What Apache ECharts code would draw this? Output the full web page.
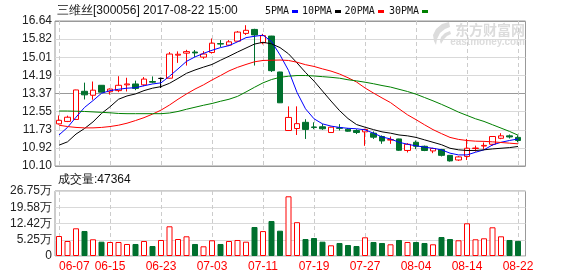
<!DOCTYPE html>
<html><head><meta charset="utf-8">
<script src="https://cdn.jsdelivr.net/npm/echarts@6/dist/echarts.min.js"></script>
<style>html,body{margin:0;padding:0;background:#fff}#c{width:578px;height:276px}</style>
</head><body><div id="c"></div>
<script>
const dates = ['06-07','06-08','06-09','06-12','06-13','06-14','06-15','06-16','06-19','06-20','06-21','06-22','06-23','06-26','06-27','06-28','06-29','06-30','07-03','07-04','07-05','07-06','07-07','07-10','07-11','07-12','07-13','07-14','07-17','07-18','07-19','07-20','07-21','07-24','07-25','07-26','07-27','07-28','07-31','08-01','08-02','08-03','08-04','08-07','08-08','08-09','08-10','08-11','08-14','08-15','08-16','08-17','08-18','08-21','08-22'];
const opens = [12.00,12.11,12.20,13.47,13.29,13.74,13.45,13.50,13.76,13.80, 13.76,13.91,14.05,14.06,15.10,15.19,15.24,15.01,15.22,15.62, 15.55,15.73,16.08,16.26,15.66,15.96,14.34,11.70,11.79,12.07, 11.86,11.87,11.61,11.82,11.76,11.70,11.64,11.58,11.43,11.27, 11.32,10.80,11.17,10.99,10.78,10.84,10.58,10.37,10.53,10.89, 11.00,11.08,11.35,11.46,11.39];
const closes = [12.16,12.30,13.53,13.31,13.52,13.43,13.57,13.74,13.80,13.60, 14.02,13.88,14.05,15.15,15.14,15.26,15.20,15.15,15.64,15.60, 15.70,16.14,16.22,16.01,15.98,14.40,12.95,12.29,12.01,11.75, 11.84,11.78,11.85,11.80,11.67,11.61,11.75,11.40,11.23,11.29, 10.81,11.08,10.99,10.80,10.89,10.58,10.33,10.51,10.90,10.91, 11.03,11.43,11.46,11.41,11.25];
const lows = [11.97,12.08,12.18,13.10,13.09,13.42,13.32,13.43,13.46,13.52, 13.70,13.83,13.62,14.05,14.75,14.63,15.02,14.93,15.17,15.46, 15.51,15.70,16.01,14.63,15.59,14.34,12.94,11.70,11.50,11.32, 11.76,11.73,11.60,11.70,11.65,11.54,11.01,11.32,11.10,11.10, 10.78,10.71,10.86,10.77,10.68,10.53,10.30,10.33,10.37,10.75, 10.87,11.02,11.31,11.34,11.17];
const highs = [12.38,12.37,13.54,13.86,13.91,13.75,13.60,14.15,14.08,13.95, 14.11,14.14,14.09,15.24,15.27,15.34,15.33,15.28,15.85,15.78, 15.78,16.19,16.45,16.29,16.06,15.97,14.35,12.79,12.79,12.21, 12.07,12.00,11.87,11.99,11.81,11.76,11.78,11.66,11.48,11.43, 11.33,11.13,11.25,11.02,10.92,10.87,10.59,10.55,11.32,11.02, 11.16,11.44,11.58,11.52,11.48];
const ma5 = [11.50,11.84,12.30,12.74,13.05,13.38,13.50,13.56,13.61,13.63, 13.72,13.80,13.85,14.15,14.48,14.82,15.02,15.18,15.32,15.44, 15.53,15.70,15.89,15.95,16.00,15.72,15.11,14.41,13.42,12.68, 12.23,12.00,11.90,11.84,11.80,11.78,11.73,11.58,11.41,11.32, 11.17,11.08,11.01,10.95,10.90,10.83,10.68,10.60,10.60,10.72, 10.83,11.05,11.17,11.25,11.32];
const ma10 = [11.04,11.19,11.54,11.79,12.09,12.47,12.77,13.11,13.26,13.35, 13.50,13.61,13.68,13.83,14.05,14.28,14.43,14.56,14.68,14.87, 15.05,15.24,15.42,15.60,15.68,15.61,15.44,15.16,14.75,14.32, 13.93,13.48,13.03,12.60,12.24,11.97,11.85,11.74,11.64,11.58, 11.50,11.46,11.39,11.28,11.17,11.06,10.90,10.83,10.80,10.80, 10.83,10.87,10.90,10.93,10.98];
const ma20 = [11.94,11.88,11.84,11.82,11.82,11.84,11.88,11.94,12.03,12.15, 12.28,12.44,12.62,12.85,13.11,13.35,13.57,13.76,13.98,14.18, 14.39,14.55,14.68,14.80,14.86,14.87,14.88,14.86,14.78,14.67, 14.59,14.48,14.38,14.25,14.08,13.89,13.62,13.39,13.17,12.96, 12.68,12.41,12.19,11.96,11.74,11.56,11.39,11.30,11.25,11.22, 11.21,11.19,11.16,11.13,11.10];
const ma30 = [12.58,12.58,12.57,12.56,12.54,12.52,12.50,12.47,12.46,12.46, 12.46,12.46,12.46,12.49,12.56,12.66,12.75,12.84,12.92,13.02, 13.11,13.24,13.44,13.65,13.85,14.00,14.10,14.15,14.18,14.18, 14.16,14.13,14.10,14.06,13.99,13.94,13.88,13.81,13.73,13.66, 13.56,13.46,13.34,13.19,13.04,12.88,12.71,12.53,12.38,12.23, 12.11,11.96,11.81,11.66,11.49];
const volumes = [6.90,4.70,10.30,9.11,5.45,4.39,4.26,4.26,3.38,3.38, 4.70,2.49,5.14,11.18,5.58,6.77,3.38,2.36,5.01,3.38, 4.70,5.14,4.39,10.87,9.08,13.52,9.24,24.41,12.99,5.58, 6.02,4.39,2.80,3.82,2.93,2.49,6.33,4.26,3.82,3.24, 5.14,4.26,4.26,3.82,3.24,6.46,5.58,5.01,12.50,5.45, 5.89,10.74,6.77,5.14,4.74];
const priceTicks = ['10.10','10.92','11.73','12.55','13.37','14.19','15.01','15.82','16.64'];
const volTicks = ['0','5.25万','12.42万','19.58万','26.75万'];
const priceRange = [10.10, 16.64];
const volRange = [-1.9167, 26.75];
const titleText = '三维丝[300056] 2017-08-22 15:00';
const volText = '成交量:47364';
const maNames = ['5PMA','10PMA','20PMA','30PMA'];

const UP = '#ff0000', DOWN = '#00702e';
const maColors = ['#0000ff','#000000','#ff0000','#008000'];
const FONT = '"Liberation Sans", Arial, sans-serif';

const chart = echarts.init(document.getElementById('c'));
const candleData = dates.map((d, i) => {
  const item = { value: [opens[i], closes[i], lows[i], highs[i]] };
  if (opens[i] === closes[i]) item.itemStyle = { color: '#000', color0: '#000', borderColor: '#000', borderColor0: '#000', borderColorDoji: '#000' };
  return item;
});
const volData = volumes.map((v, i) => {
  const up = closes[i] >= opens[i];
  return { value: v, itemStyle: up ? { color: '#fff', borderColor: UP, borderWidth: 1 } : { color: DOWN, borderColor: DOWN, borderWidth: 1 } };
});
const vSplit = { show: true, interval: 5, alignWithLabel: true, lineStyle: { color: '#cccccc', type: [4, 3], width: 1 } };
const graphics = [
  { type: 'text', x: 57, y: 11, style: { text: titleText, font: '12px ' + FONT, fill: '#111', verticalAlign: 'middle' } },
  { type: 'text', x: 58, y: 180, style: { text: volText, font: '12px ' + FONT, fill: '#111', verticalAlign: 'middle' } },
  { type: 'polygon', z: -1, shape: { points: [[449,22],[442,24],[436,29],[433,35],[434,41],[436,45],[437,39],[440,33],[445,29],[450,27]] }, style: { fill: '#dcdcdc' } },
  { type: 'polygon', z: -1, shape: { points: [[450,31],[445,33],[441,37],[440,41],[441,44],[444,39],[447,36],[451,34]] }, style: { fill: '#dcdcdc' } },
  { type: 'text', x: 525, y: 30, z: -1, style: { text: '东方财富网', font: 'bold 14px "Noto Sans CJK SC"', fill: '#dcdcdc', align: 'right', verticalAlign: 'middle' } },
  { type: 'text', x: 525, y: 42, z: -1, style: { text: 'eastmoney.com', font: 'bold 10px ' + FONT, fill: '#dcdcdc', align: 'right', verticalAlign: 'middle' } }
];
const legX = [265, 302, 344.6, 389];
const swX = [292, 335, 378, 422];
maNames.forEach((n, k) => {
  graphics.push({ type: 'text', x: legX[k], y: 11, style: { text: n, font: '10px "DejaVu Sans Mono"', fill: '#111', verticalAlign: 'middle' } });
  graphics.push({ type: 'rect', shape: { x: swX[k], y: 10, width: 6, height: 3 }, style: { fill: maColors[k] } });
});

const option = {
  animation: false,
  backgroundColor: '#fff',
  graphic: graphics,
  grid: [
    { left: 55, top: 21, width: 470.5, height: 145, show: true, borderColor: '#999', borderWidth: 1 },
    { left: 54.75, top: 21, width: 467.5, height: 145 },
    { left: 55, top: 191, width: 470.5, height: 65, show: true, borderColor: '#999', borderWidth: 1 },
    { left: 54.75, top: 191, width: 467.5, height: 65 }
  ],
  xAxis: [
    { gridIndex: 0, type: 'value', min: 0, max: 1, show: false },
    { gridIndex: 1, type: 'category', data: dates, axisLine: { show: false }, axisTick: { show: false }, axisLabel: { show: false }, splitLine: vSplit },
    { gridIndex: 2, type: 'value', min: 0, max: 1, show: false },
    { gridIndex: 3, type: 'category', data: dates, axisLine: { show: false }, axisTick: { show: false },
      axisLabel: { show: true, interval: 5, color: '#ff0000', fontSize: 12, fontFamily: FONT, margin: 5, alignMinLabel: 'left' },
      splitLine: vSplit }
  ],
  yAxis: [
    { gridIndex: 0, type: 'value', min: 0, max: 8, interval: 1, axisLine: { show: false }, axisTick: { show: false },
      axisLabel: { formatter: v => priceTicks[Math.round(v)], color: '#222', fontSize: 12, fontFamily: FONT, margin: 3 },
      splitLine: { lineStyle: { color: '#d9d9d9', width: 1 } } },
    { gridIndex: 0, type: 'value', min: 0, max: 2, interval: 1, axisLine: { show: false }, axisTick: { show: false }, axisLabel: { show: false },
      splitLine: { lineStyle: { color: '#999', width: 1 } } },
    { gridIndex: 1, type: 'value', min: priceRange[0], max: priceRange[1], show: false },
    { gridIndex: 2, type: 'value', min: 0, max: 4, interval: 1, axisLine: { show: false }, axisTick: { show: false },
      axisLabel: { formatter: v => volTicks[Math.round(v)], color: '#222', fontSize: 12, fontFamily: FONT, margin: 3 },
      splitLine: { lineStyle: { color: '#d9d9d9', width: 1 } } },
    { gridIndex: 3, type: 'value', min: volRange[0], max: volRange[1], startValue: volRange[0], show: false }
  ],
  series: [
    { type: 'candlestick', name: 'K', xAxisIndex: 1, yAxisIndex: 2, data: candleData, barWidth: 6,
      itemStyle: { color: '#fff', color0: DOWN, borderColor: UP, borderColor0: DOWN, borderWidth: 1 } },
    ...[ma5, ma10, ma20, ma30].map((d, k) => ({
      type: 'line', name: maNames[k], xAxisIndex: 1, yAxisIndex: 2, data: d, symbol: 'none', smooth: false,
      lineStyle: { color: maColors[k], width: 1 }, itemStyle: { color: maColors[k] }, z: 3
    })),
    { type: 'bar', name: '成交量', xAxisIndex: 3, yAxisIndex: 4, data: volData, barWidth: 6 }
  ]
};
chart.setOption(option);
</script></body></html>
